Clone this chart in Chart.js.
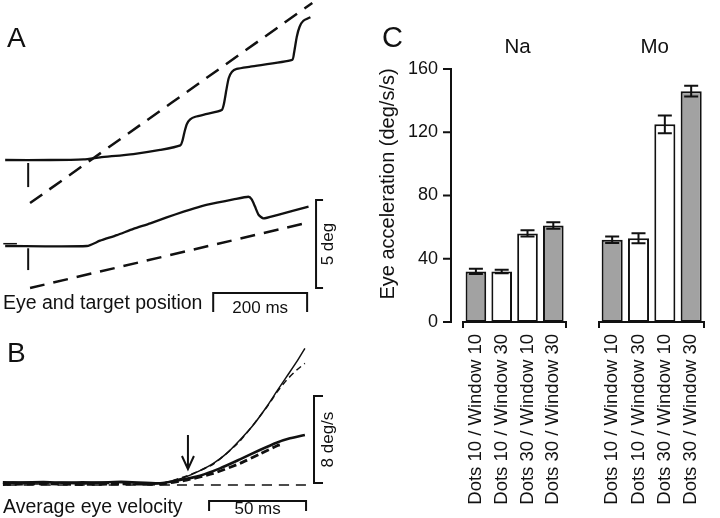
<!DOCTYPE html>
<html>
<head>
<meta charset="utf-8">
<script src="https://cdn.jsdelivr.net/npm/chart.js@4.4.1/dist/chart.umd.min.js"></script>
<style>
  html, body { margin: 0; padding: 0; background: #fff; }
  #page { position: relative; width: 720px; height: 518px; overflow: hidden; background: #fff; }
  canvas { position: absolute; }
</style>
</head>
<body>
<div id="page">
  <canvas id="posChart" width="340" height="320" style="left:0;top:0"></canvas>
  <canvas id="velChart" width="340" height="198" style="left:0;top:320px"></canvas>
  <canvas id="naChart" width="212" height="498" style="left:370px;top:20px"></canvas>
  <canvas id="moChart" width="135" height="498" style="left:585px;top:20px"></canvas>
</div>
<script>
// ---- panel A: eye / target position, [time ms, position deg] ----
const posEyeTop = [[-49,0],[47,0],[118,0.04],[153,0.15],[224,0.34],[281,0.57],[324,0.83],[329,1.14],[333,1.61],[338,2.05],[345,2.31],[356,2.46],[381,2.62],[412,2.84],[417,3.22],[422,3.98],[427,4.65],[434,5.02],[444,5.18],[473,5.31],[562,5.69],[566,6.07],[572,7.01],[578,7.58],[586,7.92],[601,8.12]];
const posTargetTop = [[4,-2.45],[605,8.93]];
const posEyeBottom = [[-49,-4.89],[125,-4.89],[153,-4.59],[189,-4.27],[224,-3.92],[260,-3.60],[295,-3.26],[331,-2.94],[366,-2.65],[402,-2.43],[437,-2.24],[469,-2.09],[476,-2.24],[483,-2.65],[491,-3.13],[501,-3.32],[530,-3.13],[565,-2.88],[597,-2.65]];
const posEyeBottomStub = [[-53,-4.76],[-24,-4.76]];
const posTargetBottom = [[4,-7.28],[601,-3.53]];
const onsetTop = [[0,-0.17],[0,-1.54]];
const onsetBottom = [[0,-5.02],[0,-6.26]];

// ---- panel B: average eye velocity, [time ms, velocity deg/s] ----
const velFastEye = [[-81,0.3],[-60,0.2],[-40,0.3],[-20,0.22],[0,0.16],[6.9,0.4],[13.7,0.77],[20.6,1.32],[27.5,1.99],[34.4,2.91],[41.2,4.14],[48.1,5.52],[55,7.2],[60.1,8.58],[65.3,9.96],[70.5,11.34],[74.7,12.57]];
const velFastFit = [[-81,0.15],[-60,0.1],[-40,0.2],[-20,0.1],[0,0.12],[13.7,0.83],[27.5,1.93],[41.2,4.05],[55,7.14],[60.1,8.49],[65.3,9.66],[70.5,10.57],[74.7,11.19]];
const velSlowEye = [[-81,0.2],[-60,0.28],[-40,0.15],[-20,0.3],[0,0.16],[10.3,0.46],[20.6,0.86],[30.9,1.53],[41.2,2.36],[51.5,3.22],[60.1,3.89],[67,4.29],[74.7,4.6]];
const velSlowFit = [[-81,0.05],[-60,0.12],[-40,0.05],[-20,0.1],[0,0.09],[13.7,0.46],[27.5,1.07],[41.2,1.99],[51.5,2.85],[60.1,3.59],[63.6,3.77]];
const velZero = [[-79,0],[76,0]];

// ---- panel C: eye acceleration (deg/s/s) ----
const conditions = ['Dots 10 / Window 10', 'Dots 10 / Window 30', 'Dots 30 / Window 10', 'Dots 30 / Window 30'];
const naAccel = [32, 32, 56, 61];
const naErr = [1.6, 1.1, 2, 2.1];
const moAccel = [52, 53, 125, 146];
const moErr = [2.1, 3.2, 5.6, 3.4];
const accelTicks = [0, 40, 80, 120, 160];

const FONT = '"Liberation Sans", Arial, Helvetica, sans-serif';
const INK = '#111';
Chart.defaults.font.family = FONT;
Chart.defaults.color = INK;

const toXY = (arr) => arr.map(([x, y]) => ({ x, y }));

function trace(points, width, dash) {
  return {
    data: toXY(points),
    showLine: true,
    borderColor: INK,
    borderWidth: width,
    borderDash: dash || [],
    pointRadius: 0,
    tension: 0.2,
    clip: false,
    fill: false
  };
}

function label(ctx, str, x, y, size, align, rot, spacing) {
  ctx.save();
  ctx.translate(x, y);
  if (rot) ctx.rotate(rot);
  ctx.font = size + 'px ' + FONT;
  if (spacing) ctx.letterSpacing = spacing + 'px';
  ctx.textAlign = align || 'left';
  ctx.textBaseline = rot ? 'middle' : 'alphabetic';
  ctx.fillStyle = INK;
  ctx.fillText(str, 0, 0);
  ctx.restore();
}

const hiddenAxes = (xmin, xmax, ymin, ymax) => ({
  x: { type: 'linear', display: false, min: xmin, max: xmax },
  y: { type: 'linear', display: false, min: ymin, max: ymax }
});

const quiet = { legend: { display: false }, tooltip: { enabled: false } };

// scale bars and captions of panel A
const posNotes = {
  id: 'posNotes',
  afterDatasetsDraw(chart) {
    const { ctx, scales: { x, y } } = chart;
    ctx.save();
    ctx.strokeStyle = INK;
    ctx.lineWidth = 2;
    const bx = x.getPixelForValue(613);
    const b1 = y.getPixelForValue(-2.28), b2 = y.getPixelForValue(-7.28);
    ctx.beginPath();
    ctx.moveTo(bx + 7, b1); ctx.lineTo(bx, b1); ctx.lineTo(bx, b2); ctx.lineTo(bx + 7, b2);
    ctx.stroke();
    const t1 = x.getPixelForValue(394), t2 = x.getPixelForValue(594), ty = y.getPixelForValue(-7.57);
    ctx.beginPath();
    ctx.moveTo(t1, ty + 19); ctx.lineTo(t1, ty); ctx.lineTo(t2, ty); ctx.lineTo(t2, ty + 19);
    ctx.stroke();
    ctx.restore();
    label(ctx, '5 deg', bx + 12, (b1 + b2) / 2, 17, 'center', -Math.PI / 2);
    label(ctx, '200 ms', (t1 + t2) / 2, 313, 17, 'center');
    label(ctx, 'A', 7, 47, 28);
    label(ctx, 'Eye and target position', 3, 309, 19.5);
  }
};

new Chart(document.getElementById('posChart'), {
  type: 'scatter',
  data: {
    datasets: [
      trace(posTargetTop, 2.5, [15, 9]),
      trace(posTargetBottom, 2.5, [15, 9]),
      trace(posEyeTop, 2.3),
      trace(posEyeBottom, 2.3),
      trace(posEyeBottomStub, 1.5),
      trace(onsetTop, 2),
      trace(onsetBottom, 2)
    ]
  },
  options: {
    responsive: false,
    animation: false,
    layout: { padding: 0 },
    scales: hiddenAxes(-60, 664, -9.1, 9.1),
    plugins: quiet
  },
  plugins: [posNotes]
});

// arrow, scale bars and captions of panel B
const velNotes = {
  id: 'velNotes',
  afterDatasetsDraw(chart) {
    const { ctx, scales: { x, y } } = chart;
    ctx.save();
    ctx.strokeStyle = INK;
    ctx.lineWidth = 2;
    const ax = x.getPixelForValue(14.4), a1 = y.getPixelForValue(4.6), a2 = y.getPixelForValue(1.47);
    ctx.beginPath();
    ctx.moveTo(ax, a1); ctx.lineTo(ax, a2);
    ctx.moveTo(ax - 6, a2 - 13); ctx.lineTo(ax, a2); ctx.lineTo(ax + 6, a2 - 13);
    ctx.stroke();
    const bx = x.getPixelForValue(79.4), b1 = y.getPixelForValue(8.18), b2 = y.getPixelForValue(0.18);
    ctx.beginPath();
    ctx.moveTo(bx + 9, b1); ctx.lineTo(bx, b1); ctx.lineTo(bx, b2); ctx.lineTo(bx + 9, b2);
    ctx.stroke();
    const t1 = x.getPixelForValue(25.3), t2 = x.getPixelForValue(75.3), ty = y.getPixelForValue(-1.47);
    ctx.beginPath();
    ctx.moveTo(t1, ty + 10); ctx.lineTo(t1, ty); ctx.lineTo(t2, ty); ctx.lineTo(t2, ty + 10);
    ctx.stroke();
    ctx.restore();
    label(ctx, '8 deg/s', bx + 14, (b1 + b2) / 2, 17, 'center', -Math.PI / 2);
    label(ctx, '50 ms', (t1 + t2) / 2, 194, 17, 'center');
    label(ctx, 'B', 7, 42, 28);
    label(ctx, 'Average eye velocity', 3, 193, 19.5);
  }
};

new Chart(document.getElementById('velChart'), {
  type: 'scatter',
  data: {
    datasets: [
      trace(velZero, 1.5, [10, 7]),
      trace(velFastFit, 1.5, [6, 4]),
      trace(velFastEye, 1.5),
      trace(velSlowFit, 2.8, [8, 4]),
      trace(velSlowEye, 2.6)
    ]
  },
  options: {
    responsive: false,
    animation: false,
    layout: { padding: 0 },
    scales: hiddenAxes(-82.5, 92.8, -3.03, 15.17),
    plugins: quiet
  },
  plugins: [velNotes]
});

// ---- panel C ----
const barFills = ['#a2a2a2', '#ffffff', '#ffffff', '#a2a2a2'];

const errorBars = {
  id: 'errorBars',
  afterDatasetsDraw(chart, args, opts) {
    const { ctx, scales: { y } } = chart;
    const values = chart.data.datasets[0].data;
    ctx.save();
    ctx.strokeStyle = INK;
    ctx.lineWidth = 2;
    chart.getDatasetMeta(0).data.forEach((bar, i) => {
      const top = y.getPixelForValue(values[i] + opts.errors[i]);
      const bot = y.getPixelForValue(values[i] - opts.errors[i]);
      ctx.beginPath();
      ctx.moveTo(bar.x, top); ctx.lineTo(bar.x, bot);
      ctx.moveTo(bar.x - 7, top); ctx.lineTo(bar.x + 7, top);
      ctx.moveTo(bar.x - 7, bot); ctx.lineTo(bar.x + 7, bot);
      ctx.stroke();
    });
    ctx.restore();
  }
};

// detached y axis, group titles, panel letter
const accelNotes = {
  id: 'accelNotes',
  afterDraw(chart, args, opts) {
    const { ctx, chartArea, scales: { y } } = chart;
    const mid = (chartArea.left + chartArea.right) / 2;
    label(ctx, opts.group, mid + opts.shift, 33, 20.5, 'center');
    if (!opts.axis) return;
    const ax = chartArea.left - 12;
    ctx.save();
    ctx.strokeStyle = INK;
    ctx.lineWidth = 2;
    ctx.beginPath();
    ctx.moveTo(ax, y.getPixelForValue(accelTicks[accelTicks.length - 1]) - 1);
    ctx.lineTo(ax, y.getPixelForValue(accelTicks[0]) + 1);
    accelTicks.forEach((v) => {
      const py = y.getPixelForValue(v);
      ctx.moveTo(ax - 8, py); ctx.lineTo(ax, py);
    });
    ctx.stroke();
    ctx.restore();
    label(ctx, 'Eye acceleration (deg/s/s)', 18, 164, 20, 'center', -Math.PI / 2);
    label(ctx, 'C', 12, 27, 29);
  }
};

function accelChart(id, values, errors, group, withAxis, padding, shift) {
  const yScale = {
    display: withAxis,
    min: accelTicks[0],
    max: accelTicks[accelTicks.length - 1],
    ticks: { stepSize: 40, padding: 25, font: { size: 18 }, color: INK },
    grid: { display: false, drawTicks: false, tickLength: 0 },
    border: { display: false }
  };
  if (withAxis) yScale.afterFit = (s) => { s.width = 93; };

  return new Chart(document.getElementById(id), {
    type: 'bar',
    data: {
      labels: conditions,
      datasets: [{
        data: values,
        backgroundColor: barFills,
        borderColor: INK,
        borderWidth: 2,
        borderSkipped: false,
        categoryPercentage: 1,
        barPercentage: 0.8
      }]
    },
    options: {
      responsive: false,
      animation: false,
      layout: { padding },
      scales: {
        x: {
          grid: {
            display: true,
            drawOnChartArea: false,
            drawTicks: true,
            tickLength: 6,
            offset: true,
            lineWidth: 2,
            color: (c) => (c.type === 'scale' || c.index === 0) ? INK : 'rgba(0,0,0,0)'
          },
          border: { display: true, color: INK, width: 2 },
          ticks: { minRotation: 90, maxRotation: 90, autoSkip: false, padding: 6, font: { size: 18.5 }, color: INK },
          afterFit: (s) => { s.height = 196; }
        },
        y: yScale
      },
      plugins: {
        legend: { display: false },
        tooltip: { enabled: false },
        errorBars: { errors },
        accelNotes: { group, axis: withAxis, shift }
      }
    },
    plugins: [errorBars, accelNotes]
  });
}

accelChart('naChart', naAccel, naErr, 'Na', true, { top: 49, left: 0, right: 4, bottom: 0 }, 3);
accelChart('moChart', moAccel, moErr, 'Mo', false, { top: 49, left: 14, right: 5, bottom: 0 }, 3);
</script>
</body>
</html>
